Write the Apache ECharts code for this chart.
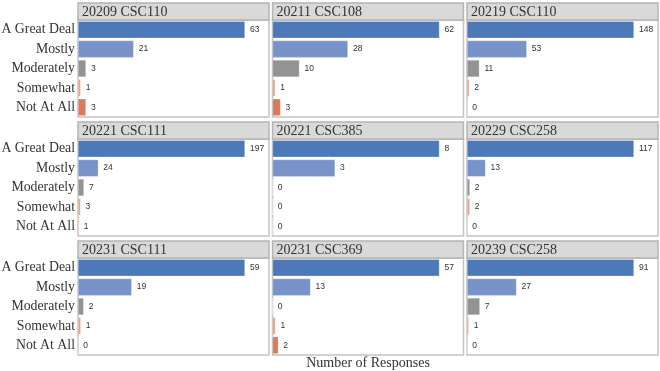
<!DOCTYPE html>
<html><head><meta charset="utf-8">
<script src="https://cdn.jsdelivr.net/npm/echarts@6/dist/echarts.min.js"></script>
<style>html,body{margin:0;padding:0;background:#fff}#c{width:660px;height:371px}</style>
</head><body><div id="c"></div>
<script>
const categories = ['A Great Deal','Mostly','Moderately','Somewhat','Not At All'];
const panelTitles = ['20209 CSC110','20211 CSC108','20219 CSC110','20221 CSC111','20221 CSC385','20229 CSC258','20231 CSC111','20231 CSC369','20239 CSC258'];
const v20209_CSC110 = [63,21,3,1,3];
const v20211_CSC108 = [62,28,10,1,3];
const v20219_CSC110 = [148,53,11,2,0];
const v20221_CSC111 = [197,24,7,3,1];
const v20221_CSC385 = [8,3,0,0,0];
const v20229_CSC258 = [117,13,2,2,0];
const v20231_CSC111 = [59,19,2,1,0];
const v20231_CSC369 = [57,13,0,1,2];
const v20239_CSC258 = [91,27,7,1,0];
const panelValues = [v20209_CSC110,v20211_CSC108,v20219_CSC110,v20221_CSC111,v20221_CSC385,v20229_CSC258,v20231_CSC111,v20231_CSC369,v20239_CSC258];
const xTitle = 'Number of Responses';

const colors = ['#4e79b8','#7893c9','#939395','#e8a088','#d97a5c'];
const colLeft = [78, 272.5, 467];
const colW = 191;
const rowTop = [3, 122, 241];
const headH = 17;
const plotH = 97;

const grids=[], xAxes=[], yAxes=[], series=[], graphics=[];
for (let i=0;i<9;i++){
  const r=Math.floor(i/3), c=i%3;
  const left=colLeft[c], top=rowTop[r]+headH;
  grids.push({left:left, top:top, width:colW, height:plotH, containLabel:false, outerBoundsMode:'none',
    show:true, borderColor:'#c4c4c4', borderWidth:1.5, backgroundColor:'#fff'});
  xAxes.push({gridIndex:i, type:'value', min:0, max:v=>Math.max(v.max,1)*1.144, show:false});
  yAxes.push({gridIndex:i, type:'category', data:categories, inverse:true,
    axisLine:{show:false}, axisTick:{show:false}, splitLine:{show:false},
    axisLabel:{show:c===0, interval:0, hideOverlap:false, fontFamily:'Liberation Serif', fontSize:13.8, color:'#333', margin:3}});
  series.push({type:'bar', xAxisIndex:i, yAxisIndex:i, barCategoryGap:'12%',
    data:panelValues[i].map((v,k)=>({value:v, itemStyle:{color:colors[k]}})),
    itemStyle:{borderColor:'rgba(255,255,255,0.5)', borderWidth:0.5},
    label:{show:true, position:'right', distance:5, fontFamily:'Liberation Sans', fontSize:8.5, color:'#333'},
    silent:true, animation:false});
  graphics.push({type:'rect', shape:{x:left, y:rowTop[r], width:colW, height:headH},
    style:{fill:'#d9d9d9', stroke:'#b4b4b4', lineWidth:1.5}});
  graphics.push({type:'text', x:left+4, y:rowTop[r]+headH/2+1,
    style:{text:panelTitles[i], font:'14px "Liberation Serif"', fill:'#333', textVerticalAlign:'middle', verticalAlign:'middle'}});
}
graphics.push({type:'text', x:colLeft[1]+colW/2, y:363,
  style:{text:xTitle, font:'14px "Liberation Serif"', fill:'#333', textAlign:'center', align:'center', textVerticalAlign:'middle', verticalAlign:'middle'}});

const chart = echarts.init(document.getElementById('c'), null, {renderer:'canvas'});
chart.setOption({animation:false, grid:grids, xAxis:xAxes, yAxis:yAxes, series:series, graphic:graphics});
</script></body></html>
